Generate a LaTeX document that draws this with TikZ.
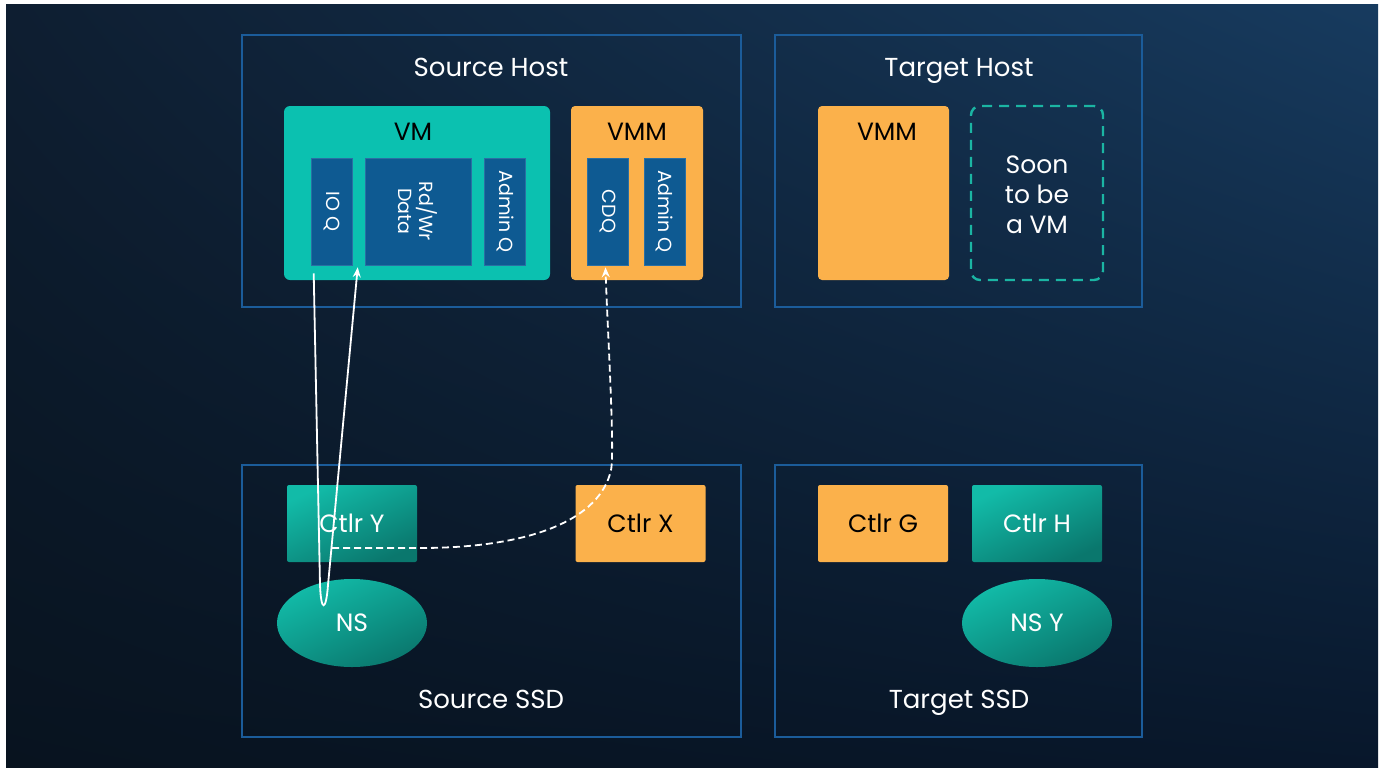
\documentclass[tikz,border=0pt]{standalone}
\usepackage{fontspec}
\setmainfont{Poppins}
\usetikzlibrary{shapes.geometric,arrows.meta,calc,shadings}

\definecolor{bgUL}{HTML}{0E1E31}
\definecolor{bgUR}{HTML}{173B5F}
\definecolor{bgLL}{HTML}{08131F}
\definecolor{bgLR}{HTML}{08172B}
\definecolor{frame}{HTML}{1B5C9A}
\definecolor{vmteal}{HTML}{0BC1B0}
\definecolor{tealA}{HTML}{12BBA8}
\definecolor{tealB}{HTML}{0A776D}
\definecolor{vmmorange}{HTML}{FBB14B}
\definecolor{queue}{HTML}{0E5A92}
\definecolor{queueedge}{HTML}{2A6FA3}
\definecolor{dashteal}{HTML}{1BB5A3}

\tikzset{
  hostbox/.style={draw=frame, line width=2pt, minimum width=499pt, minimum height=272pt},
  smallhost/.style={draw=frame, line width=2pt, minimum width=367pt, minimum height=272pt},
  title/.style={text=white, anchor=base, font=\fontsize{26}{30}\selectfont},
  vmbox/.style={fill=vmteal, rounded corners=6pt, minimum width=266pt, minimum height=174pt},
  vmmbox/.style={fill=vmmorange, rounded corners=4pt, minimum width=132pt, minimum height=174pt},
  boxlabel/.style={font=\fontsize{25}{29}\selectfont},
  queuebox/.style={fill=queue, draw=queueedge, line width=0.6pt, minimum width=41pt, minimum height=107pt},
  qlabel/.style={rotate=-90, text=white, align=center, font=\fontsize{19}{21}\selectfont},
  ctlrorange/.style={fill=vmmorange, rounded corners=2pt, minimum width=130pt, minimum height=77pt,
    font=\fontsize{25}{29}\selectfont, text=black},
  ctlrteal/.style={top color=tealA, bottom color=tealB, shading angle=25, rounded corners=2pt,
    minimum width=130pt, minimum height=77pt, font=\fontsize{25}{29}\selectfont, text=white},
  nsshape/.style={ellipse, top color=tealA, bottom color=tealB, shading angle=25,
    minimum width=150pt, minimum height=88pt, inner sep=0pt, font=\fontsize{25}{29}\selectfont, text=white},
  flow/.style={draw=white, line width=1.8pt, -{Stealth[length=10pt,width=8pt]}},
  dashflow/.style={flow, dash pattern=on 7pt off 4pt},
}

\begin{document}
\begin{tikzpicture}[x=1pt,y=-1pt]
  % page and dark backdrop
  \useasboundingbox (0,0) rectangle (1383,769);
  \fill[white] (0,0) rectangle (1383,769);
  \shade[upper left=bgUL, upper right=bgUR, lower left=bgLL, lower right=bgLR] (6,4) rectangle (1378,767);

  % four frames
  \node[hostbox] (srchost) at (491.5,171) {};
  \node[smallhost] (tgthost) at (958.5,171) {};
  \node[hostbox] (srcssd) at (491.5,601) {};
  \node[smallhost] (tgtssd) at (958.5,601) {};

  \node[title] (srchostlbl) at (491,76) {Source Host};
  \node[title] (tgthostlbl) at (959,76) {Target Host};
  \node[title] (srcssdlbl) at (491,708) {Source SSD};
  \node[title] (tgtssdlbl) at (959,708) {Target SSD};

  % source host: VM and VMM
  \node[vmbox] (vm) at (417,193) {};
  \node[boxlabel] (vmlbl) at (413,132) {VM};
  \node[queuebox] (ioq) at (331.5,211.5) {};
  \node[qlabel] (ioqlbl) at (331.5,211.5) {IO Q};
  \node[queuebox, minimum width=106pt] (rwdata) at (418,211.5) {};
  \node[qlabel] (rwlbl) at (418,211.5) {Rd/Wr\\Data};
  \node[queuebox] (vmadmin) at (505,211.5) {};
  \node[qlabel] (vmadminlbl) at (505,211.5) {Admin Q};

  \node[vmmbox] (vmm) at (637,193) {};
  \node[boxlabel] (vmmlbl) at (637,132) {VMM};
  \node[queuebox] (cdq) at (607.5,211.5) {};
  \node[qlabel] (cdqlbl) at (607.5,211.5) {CDQ};
  \node[queuebox] (vmmadmin) at (664.5,211.5) {};
  \node[qlabel] (vmmadminlbl) at (664.5,211.5) {Admin Q};

  % target host
  \node[vmmbox, minimum width=131pt] (tvmm) at (883.5,193) {};
  \node[boxlabel] (tvmmlbl) at (887,132) {VMM};
  \node[draw=dashteal, line width=2.4pt, dash pattern=on 10pt off 7pt, rounded corners=9pt,
        minimum width=132pt, minimum height=174pt] (soon) at (1037,193) {};
  \node[text=white, align=center, font=\fontsize{25}{30}\selectfont] (soonlbl) at (1037,195) {Soon\\to be\\a VM};

  % source SSD
  \node[ctlrteal] (ctlry) at (352,523.5) {Ctlr Y};
  \node[ctlrorange] (ctlrx) at (640.5,523.5) {Ctlr X};
  \node[nsshape] (ns) at (352,623) {NS};

  % target SSD
  \node[ctlrorange] (ctlrg) at (883,523.5) {Ctlr G};
  \node[ctlrteal] (ctlrh) at (1037,523.5) {Ctlr H};
  \node[nsshape] (nsy) at (1037,623) {NS Y};

  % I/O loop: IO queue down to the namespace and back to the data buffer
  \coordinate (ioqout) at ($(ioq.south west)+(3,8)$);
  \coordinate (rwin) at ($(rwdata.south west)+(-7,2)$);
  \draw[flow] (ioqout) -- (320,585) .. controls (321,612) and (326,612) .. (328,585) -- (rwin);

  % controller Y to the CDQ (dashed)
  \coordinate (ctlryout) at (332,548);
  \coordinate (cdqin) at ($(cdq.south)+(-2,2)$);
  \draw[dashflow] (ctlryout) -- (420,548) .. controls (530,548) and (600,520) .. (611,470)
        .. controls (615,452) and (607,320) .. (cdqin);
\end{tikzpicture}
\end{document}
